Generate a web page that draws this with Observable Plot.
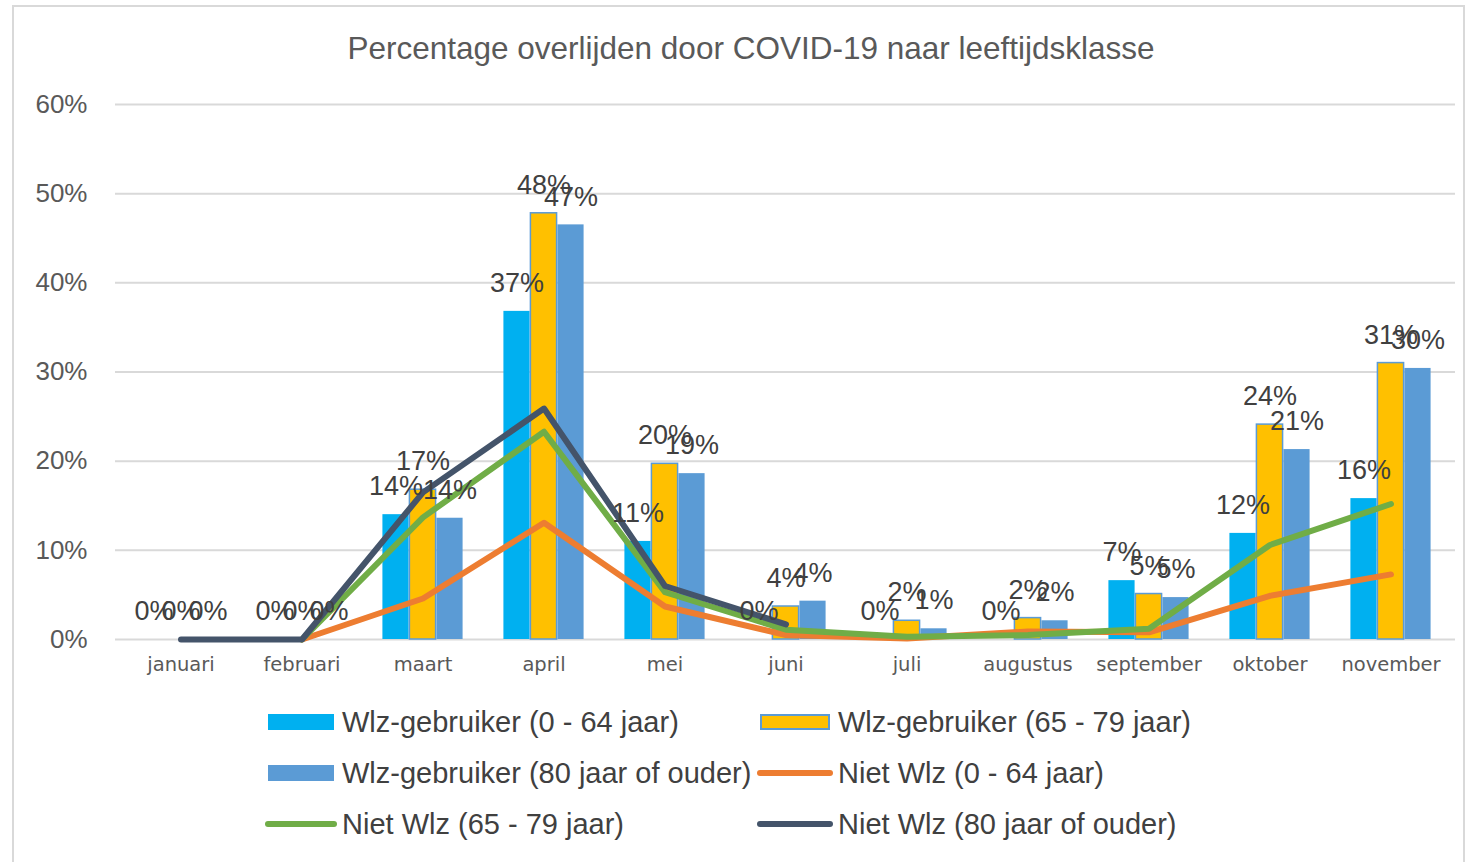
<!DOCTYPE html>
<html>
<head>
<meta charset="utf-8">
<script src="https://cdn.jsdelivr.net/npm/d3@7"></script>
<script src="https://cdn.jsdelivr.net/npm/@observablehq/plot@0.6"></script>
<style>
  html, body { margin: 0; padding: 0; background: #fff; }
  #wrap { position: relative; width: 1471px; height: 862px; overflow: hidden; font-family: "Liberation Sans", sans-serif; }
  #frame { position: absolute; left: 12px; top: 5px; width: 1453px; height: 860px; border: 2px solid #d9d9d9; box-sizing: border-box; }
  #title { position: absolute; left: 0; width: 1502px; top: 30px; text-align: center; font-size: 31.5px; color: #595959; line-height: 36px; }
  #chart { position: absolute; left: 0; top: 0; }
  .leg { position: absolute; font-size: 29px; color: #404040; line-height: 32px; white-space: nowrap; }
  .sw { position: absolute; }
</style>
</head>
<body>
<div id="wrap">
  <div id="frame"></div>
  <div id="chart"></div>
  <div id="title">Percentage overlijden door COVID-19 naar leeftijdsklasse</div>
  <div id="legend"></div>
</div>
<script>
const months = ["januari","februari","maart","april","mei","juni","juli","augustus","september","oktober","november"];
const seriesNames = [
  "Wlz-gebruiker (0 - 64 jaar)",
  "Wlz-gebruiker (65 - 79 jaar)",
  "Wlz-gebruiker (80 jaar of ouder)",
  "Niet Wlz (0 - 64 jaar)",
  "Niet Wlz (65 - 79 jaar)",
  "Niet Wlz (80 jaar of ouder)"
];
const wlz0_64  = [0, 0, 14.0, 36.8, 11.0, 0,   0,   0,   6.6, 11.9, 15.8];
const wlz65_79 = [0, 0, 16.8, 47.8, 19.7, 3.7, 2.1, 2.4, 5.1, 24.1, 31.0];
const wlz80    = [0, 0, 13.6, 46.5, 18.6, 4.3, 1.2, 2.1, 4.7, 21.3, 30.4];
const niet0_64  = [null, 0, 4.6, 13.1, 3.7, 0.5, 0.1, 0.9, 0.8, 4.9, 7.3];
const niet65_79 = [null, 0, 13.7, 23.3, 5.3, 1.1, 0.3, 0.5, 1.2, 10.6, 15.2];
const niet80    = [0, 0, 16.5, 25.9, 6.0, 1.7, null, null, null, null, null];
const yTicks = [0, 10, 20, 30, 40, 50, 60];

const colors = ["#00B0F0", "#FFC000", "#5B9BD5", "#ED7D31", "#70AD47", "#44546A"];

const W = 1471, H = 700, mL = 115, mR = 16, mT = 104, mB = 61;
const bw = (W - mL - mR) / months.length;
const barW = 27;
const pad = (bw - 3 * barW) / 2;

const barSeries = [wlz0_64, wlz65_79, wlz80];
const lineSeries = [niet0_64, niet65_79, niet80];

const barMarks = [];
const textMarks = [];
barSeries.forEach((vals, i) => {
  const data = months.map((m, j) => ({month: m, value: vals[j]}));
  barMarks.push(Plot.barY(data, {
    x: "month", y: "value",
    fill: colors[i],
    stroke: i === 1 ? "#5B9BD5" : "none",
    strokeWidth: 1.5,
    insetLeft: pad + i * barW,
    insetRight: bw - pad - (i + 1) * barW
  }));
  textMarks.push(Plot.text(data, {
    x: "month", y: "value",
    text: d => Math.round(d.value) + "%",
    dx: (i - 1) * barW,
    dy: -28,
    fill: "#404040",
    fontSize: 27,
    fontFamily: "Liberation Sans, sans-serif"
  }));
});
const lineMarks = lineSeries.map((vals, i) => {
  const data = months.map((m, j) => ({month: m, value: vals[j]})).filter(d => d.value != null);
  return Plot.line(data, {
    x: "month", y: "value",
    stroke: colors[i + 3],
    strokeWidth: 6,
    strokeLinejoin: "round",
    strokeLinecap: "round",
    curve: "linear"
  });
});

const chart = Plot.plot({
  width: W, height: H,
  marginLeft: mL, marginRight: mR, marginTop: mT, marginBottom: mB,
  style: {background: "transparent", overflow: "visible"},
  x: {type: "band", domain: months, padding: 0, label: null},
  y: {domain: [0, 60], label: null},
  marks: [
    Plot.ruleY(yTicks, {stroke: "#d9d9d9", strokeWidth: 2}),
    Plot.axisY({ticks: yTicks, tickFormat: d => d + "%", tickSize: 0, tickPadding: 28,
      fontSize: 26, fill: "#595959", label: null, fontFamily: "Liberation Sans, sans-serif"}),
    Plot.axisX({tickSize: 0, tickPadding: 18, fontSize: 19.5, fill: "#595959", label: null,
      fontFamily: "DejaVu Sans, sans-serif"}),
    ...barMarks,
    ...lineMarks,
    ...textMarks
  ]
});
document.getElementById("chart").appendChild(chart);

// Legend
const legend = document.getElementById("legend");
const legItems = [
  {name: seriesNames[0], kind: "rect", col: 0, row: 0, c: colors[0]},
  {name: seriesNames[1], kind: "rect", col: 1, row: 0, c: colors[1], s: "#5B9BD5"},
  {name: seriesNames[2], kind: "rect", col: 0, row: 1, c: colors[2]},
  {name: seriesNames[3], kind: "line", col: 1, row: 1, c: colors[3]},
  {name: seriesNames[4], kind: "line", col: 0, row: 2, c: colors[4]},
  {name: seriesNames[5], kind: "line", col: 1, row: 2, c: colors[5]}
];
const colSw = [268, 760], colSwW = [66, 70], colTx = [342, 838];
const rowY = [722, 773, 824];
legItems.forEach(it => {
  const sw = document.createElement("div");
  sw.className = "sw";
  const x0 = colSw[it.col], w = colSwW[it.col], cy = rowY[it.row];
  if (it.kind === "rect") {
    sw.style.left = x0 + "px"; sw.style.top = (cy - 8) + "px";
    sw.style.width = w + "px"; sw.style.height = "16px";
    sw.style.background = it.c;
    if (it.s) { sw.style.boxSizing = "border-box"; sw.style.border = "2px solid " + it.s; }
  } else {
    sw.style.left = (x0 - 3) + "px"; sw.style.top = (cy - 3) + "px";
    sw.style.width = (w + 6) + "px"; sw.style.height = "6px";
    sw.style.borderRadius = "3px";
    sw.style.background = it.c;
  }
  legend.appendChild(sw);
  const tx = document.createElement("div");
  tx.className = "leg";
  tx.style.left = colTx[it.col] + "px";
  tx.style.top = (cy - 16) + "px";
  tx.textContent = it.name;
  legend.appendChild(tx);
});
</script>
</body>
</html>
